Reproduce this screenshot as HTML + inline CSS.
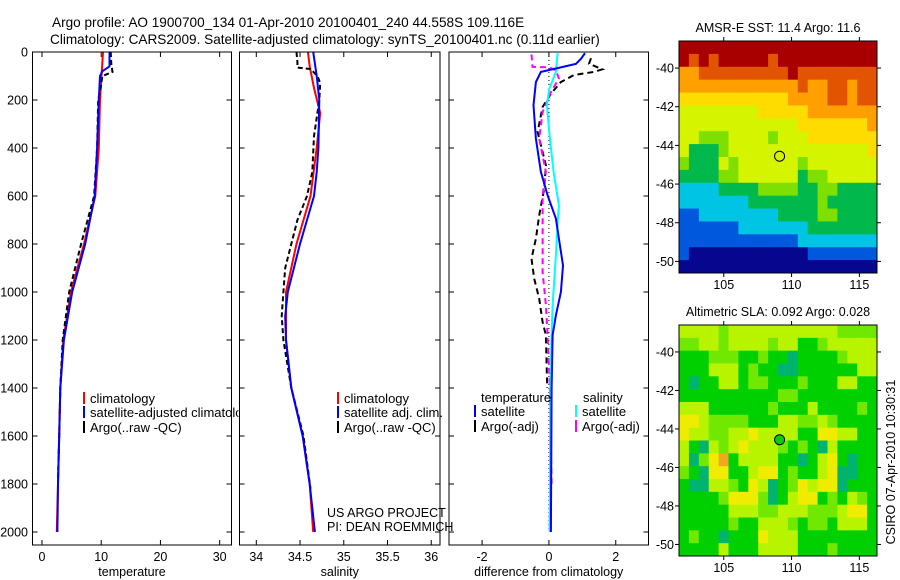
<!DOCTYPE html>
<html><head><meta charset="utf-8"><style>
body{margin:0;background:#fff}
svg{display:block;font-family:"Liberation Sans",sans-serif}
</style></head><body>
<svg id="fig" width="900" height="580" viewBox="0 0 900 580" xmlns="http://www.w3.org/2000/svg">
<defs><clipPath id="clip1"><rect x="0" y="380" width="238.5" height="60"/></clipPath></defs>
<text x="52" y="27" font-size="13.6">Argo profile: AO 1900700_134 01-Apr-2010 20100401_240 44.558S 109.116E</text>
<text x="50" y="44" font-size="13.6">Climatology: CARS2009. Satellite-adjusted climatology: synTS_20100401.nc (0.11d earlier)</text>
</svg>
<script>
const NS='http://www.w3.org/2000/svg';
const svg=document.getElementById('fig');
function mk(tag,attrs,parent){const e=document.createElementNS(NS,tag);for(const k in attrs)e.setAttribute(k,attrs[k]);(parent||svg).appendChild(e);return e;}

// ---------- data ----------
const depthTicks=[0,200,400,600,800,1000,1200,1400,1600,1800,2000];
const tempTicks=[0,10,20,30];
const salTicks=[34,34.5,35,35.5,36];
const salTickLabels=['34','34.5','35','35.5','36'];
const diffTicks=[-2,0,2];

const tClimD=[0,200,400,600,800,1000,1200,1400,1600,1800,2000];
const tClimV=[10.3,9.8,9.6,9.0,7.1,4.9,3.6,3.1,2.9,2.7,2.5];
const tSatD=[0,60,80,100,200,400,600,800,1000,1200,1400,1600,1800,2000];
const tSatV=[11.4,11.4,10.2,9.8,9.6,9.3,8.9,7.3,5.1,3.7,3.1,2.9,2.7,2.6];
const tArgoD=[0,50,83,100,150,200,400,600,800,1000,1200,1400,1600,1780];
const tArgoV=[11.6,11.7,11.9,10.2,9.9,9.5,9.3,8.8,6.6,4.6,3.5,3.1,2.9,2.7];

const sClimD=[0,60,150,254,400,600,800,1000,1200,1400,1600,1800,2000];
const sClimV=[34.59,34.61,34.66,34.73,34.69,34.62,34.46,34.34,34.34,34.40,34.53,34.61,34.65];
const sSatD=[0,100,200,400,500,600,700,800,900,1000,1100,1200,1400,1600,1800,2000];
const sSatV=[34.65,34.69,34.72,34.71,34.69,34.66,34.58,34.50,34.43,34.36,34.33,34.34,34.40,34.53,34.61,34.67];
const sArgoD=[0,40,65,71,100,130,200,300,350,500,600,700,800,900,1000,1100,1200,1400,1600,1820];
const sArgoV=[34.46,34.47,34.47,34.62,34.70,34.73,34.72,34.68,34.66,34.64,34.58,34.47,34.40,34.33,34.31,34.29,34.31,34.40,34.54,34.62];

const dTSatD=[5,28,49,67,83,125,222,361,500,597,694,778,889,1000,1097,1180,1400,2000];
const dTSatV=[1.08,0.96,0.81,0.26,-0.24,-0.39,-0.46,-0.39,-0.24,-0.04,0.21,0.30,0.42,0.36,0.21,0.11,0.08,0.06];
const dSSatD=[5,83,153,222,361,500,639,708,847,1055,1180,1400,2000];
const dSSatV=[0.26,0.21,0.01,-0.06,0.03,0.14,0.30,0.26,0.21,0.11,0.08,0.04,0.02];
const dTArgoD=[26,49,72,83,96,125,174,229,333,472,569,681,778,861,944,1028,1125,1180,1400];
const dTArgoV=[1.26,1.20,1.60,1.35,0.75,0.36,0.06,-0.19,-0.34,-0.09,-0.14,-0.29,-0.39,-0.52,-0.44,-0.29,-0.19,-0.09,-0.05];
const dSArgoD=[10,62,64,76,111,167,250,361,500,597,778,917,1055,1180,1400,1800];
const dSArgoV=[-0.52,-0.49,0.0,0.21,0.30,0.06,-0.19,-0.29,-0.09,-0.19,-0.19,-0.19,-0.09,-0.04,0.03,0.08];

// maps
const lonTicks=[105,110,115];
const latTicks=[-40,-42,-44,-46,-48,-50];
const latTickLabels=['-40','-42','-44','-46','-48','-50'];
const sstRows=[
"99999999999999999999",
"98989999989999999999",
"77888888888988888888",
"77777777777787788788",
"66666666666777788788",
"55555555666667777777",
"55555555555566666667",
"55444555545556666666",
"53334555555555555556",
"43335455555545555555",
"33334455555534455555",
"22223333444433443333",
"22222223333333433333",
"11222222223333443333",
"11111122222223333333",
"11111111111122222222",
"10000000000001111111",
"00000000000000000000"];
const slaRows=[
"44443444444444443333",
"33443444434422344444",
"22233322322122223444",
"22244423221122222244",
"21224423322232224422",
"22222222223322222222",
"44422222232224222232",
"55433332224433432222",
"54433445444422554422",
"42143454443232142222",
"41356244442212452122",
"32155224552322451122",
"21144325412354551222",
"22223555312455232432",
"22222444334443334552",
"22222322444323324442",
"23221222544422222222",
"22224222444422232222"];
const sstColors=['#06068e','#0058dc','#00c4e4','#00b84c','#7ee000','#d4f400','#ffdc00','#ffa000','#e25400','#a80000'];
const slaColors=['#00d8d8','#00b470','#00d000','#70e800','#b8f400','#f0ec00','#f0a820'];
const argoLon=109.116, argoLat=-44.558;

// ---------- profile panels ----------
const Y0=52, YS=0.24, PB=545;
const yD=d=>Y0+d*YS;
const panels=[
 {name:'temperature',x0:32.5,x1:231.5,xmin:-1.6,xmax:32.0,ticks:tempTicks,labels:tempTicks.map(String),label:'temperature'},
 {name:'salinity',x0:239.5,x1:440,xmin:33.808,xmax:36.1,ticks:salTicks,labels:salTickLabels,label:'salinity'},
 {name:'difference',x0:449,x1:648.5,xmin:-2.99,xmax:2.98,ticks:diffTicks,labels:diffTicks.map(String),label:'difference from climatology'}];
panels.forEach(p=>{p.fx=v=>p.x0+(v-p.xmin)/(p.xmax-p.xmin)*(p.x1-p.x0);});

function line(p,D,V,color,dash,name,w){
  const pts=D.map((d,i)=>p.fx(V[i]).toFixed(1)+','+yD(d).toFixed(1)).join(' ');
  const a={points:pts,fill:'none',stroke:color,'stroke-width':w||2};
  if(dash)a['stroke-dasharray']=dash;
  const e=mk('polyline',a);
  
  
}

panels.forEach((p,pi)=>{
  p.ticks.forEach((t,i)=>{
    const x=p.fx(t);
    mk('line',{x1:x,y1:PB,x2:x,y2:PB-5,stroke:'#000'});
    mk('line',{x1:x,y1:Y0,x2:x,y2:Y0+5,stroke:'#000'});
    const tl=mk('text',{x:x,y:PB+16,'font-size':12.5,'text-anchor':'middle'});
    tl.textContent=p.labels[i];
    
    
  });
  depthTicks.forEach(d=>{
    const y=yD(d);
    mk('line',{x1:p.x0,y1:y,x2:p.x0+5,y2:y,stroke:'#000'});
    mk('line',{x1:p.x1,y1:y,x2:p.x1-5,y2:y,stroke:'#000'});
    if(pi===0){
      const tl=mk('text',{x:28,y:y+4.5,'font-size':12.5,'text-anchor':'end'});
      tl.textContent=String(d);
      
      
    }
  });
  const al=mk('text',{x:(p.x0+p.x1)/2,y:576,'font-size':12.5,'text-anchor':'middle'});
  al.textContent=p.label;
  
  
});

const [P1,P2,P3]=panels;
line(P1,tClimD,tClimV,'#ff0000',null,'temp-climatology-line');
line(P1,tArgoD,tArgoV,'#000000','5,3','temp-argo-line');
line(P1,tSatD,tSatV,'#0000ff',null,'temp-satellite-line');
line(P2,sClimD,sClimV,'#ff0000',null,'sal-climatology-line');
line(P2,sArgoD,sArgoV,'#000000','5,3','sal-argo-line');
line(P2,sSatD,sSatV,'#0000ff',null,'sal-satellite-line');
{const z=P3.fx(0);const e=mk('line',{x1:z,y1:Y0,x2:z,y2:yD(2000),stroke:'#000','stroke-dasharray':'1,3'});
 }
line(P3,dTArgoD,dTArgoV,'#000000','6,4','diff-temp-argo-line');
line(P3,dSArgoD,dSArgoV,'#ff00ff','6,4','diff-sal-argo-line');
line(P3,dSSatD,dSSatV,'#00ffff',null,'diff-sal-satellite-line');
line(P3,dTSatD,dTSatV,'#0000ff',null,'diff-temp-satellite-line');

function legend(x,y,color,txt,name,parent){
  const b=mk('rect',{x:x,y:y-6,width:2,height:12,fill:color},parent);
  
  const t=mk('text',{x:x+7,y:y+5,'font-size':13},parent);t.textContent=txt;
  
}
const lg1=mk('g',{'clip-path':'url(#clip1)'});


legend(83,398,'#ff0000','climatology','legend-climatology',lg1);
legend(83,412,'#0000ff','satellite-adjusted climatology','legend-satellite-adjusted',lg1);
legend(83,427,'#000000','Argo(..raw -QC)','legend-argo-raw',lg1);
legend(337,398,'#ff0000','climatology','legend2-climatology');
legend(337,412,'#0000ff','satellite adj. clim.','legend2-satellite');
legend(337,427,'#000000','Argo(..raw -QC)','legend2-argo');
{const t=mk('text',{x:481,y:402,'font-size':13});t.textContent='temperature';
 const s=mk('text',{x:583,y:402,'font-size':13});s.textContent='salinity';}
legend(474,411,'#0000ff','satellite','legend3-temp-satellite');
legend(474,426,'#000000','Argo(-adj)','legend3-temp-argo');
legend(575,411,'#00ffff','satellite','legend3-sal-satellite');
legend(575,426,'#ff00ff','Argo(-adj)','legend3-sal-argo');
{const a=mk('text',{x:327,y:517,'font-size':12.5});a.textContent='US ARGO PROJECT';
 const b=mk('text',{x:327,y:531,'font-size':12.5});b.textContent='PI: DEAN ROEMMICH';}
panels.forEach(p=>{const r=mk('rect',{x:p.x0,y:Y0,width:p.x1-p.x0,height:PB-Y0,fill:'none',stroke:'#000','stroke-width':1});
 });

// ---------- maps ----------
const LON0=101.7,LON1=116.3,LAT0=-38.6,LAT1=-50.6;
function drawMap(mx0,mx1,my0,my1,rows,colors,name,title,filled){
  const fx=lo=>mx0+(lo-LON0)/(LON1-LON0)*(mx1-mx0);
  const fy=la=>my0+(la-LAT0)/(LAT1-LAT0)*(my1-my0);
  const nr=rows.length,nc=rows[0].length;
  const cw=(mx1-mx0)/nc,ch=(my1-my0)/nr;
  rows.forEach((row,r)=>{for(let c=0;c<nc;c++){
    const e=mk('rect',{x:(mx0+c*cw).toFixed(2),y:(my0+r*ch).toFixed(2),width:(cw+0.5).toFixed(2),height:(ch+0.5).toFixed(2),fill:colors[+row[c]]});
    
    
  }});
  const fr=mk('rect',{x:mx0,y:my0,width:mx1-mx0,height:my1-my0,fill:'none',stroke:'#000'});
  
  lonTicks.forEach(lo=>{const x=fx(lo);
    mk('line',{x1:x,y1:my0,x2:x,y2:my0-4,stroke:'#000'});
    mk('line',{x1:x,y1:my1,x2:x,y2:my1+4,stroke:'#000'});
    const t=mk('text',{x:x,y:my1+16,'font-size':12.5,'text-anchor':'middle'});t.textContent=String(lo);
    });
  latTicks.forEach((la,i)=>{const y=fy(la);
    mk('line',{x1:mx0,y1:y,x2:mx0-4,y2:y,stroke:'#000'});
    mk('line',{x1:mx1,y1:y,x2:mx1+4,y2:y,stroke:'#000'});
    const t=mk('text',{x:mx0-5,y:y+4.5,'font-size':12.5,'text-anchor':'end'});t.textContent=latTickLabels[i];
    });
  const c=mk('circle',{cx:fx(argoLon),cy:fy(argoLat),r:5,fill:filled||'none',stroke:'#000'});
  
  const t=mk('text',{x:(mx0+mx1)/2,y:my0-9,'font-size':12.5,'text-anchor':'middle'});t.textContent=title;
  
}
drawMap(679,877,41,273,sstRows,sstColors,'sst-map','AMSR-E SST: 11.4 Argo: 11.6',null);
drawMap(679,877,325,556,slaRows,slaColors,'sla-map','Altimetric SLA: 0.092 Argo: 0.028','#00d000');
{const t=mk('text',{x:0,y:0,'font-size':12.5,'text-anchor':'middle',transform:'translate(895,462) rotate(-90)'});
 t.textContent='CSIRO 07-Apr-2010 10:30:31';}
</script>
</body></html>
